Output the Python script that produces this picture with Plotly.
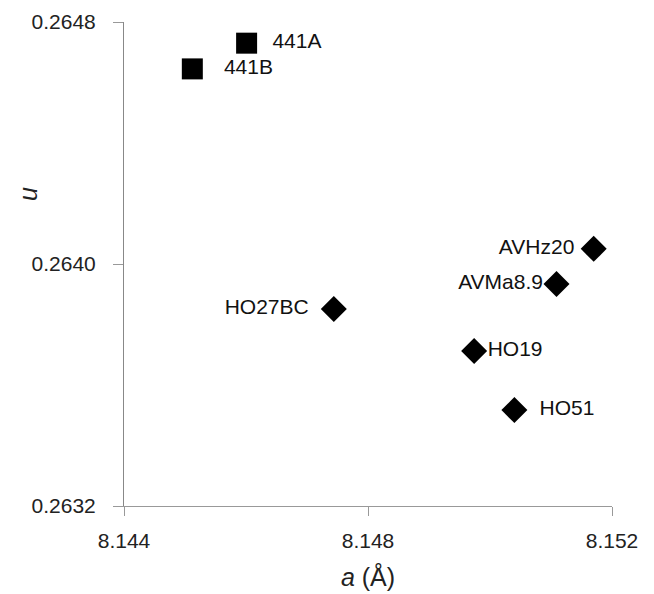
import plotly.graph_objects as go

labels = ["441A", "441B", "HO27BC", "HO19", "HO51", "AVMa8.9", "AVHz20"]
a_vals = [8.14601, 8.14512, 8.14744, 8.14974, 8.15040, 8.15109, 8.15170]
u_vals = [0.26473, 0.264645, 0.263851, 0.263712, 0.263517, 0.263934, 0.264050]
symbols = ["square", "square", "diamond", "diamond", "diamond", "diamond", "diamond"]
text_pos = ["middle right", "middle right", "middle left", "middle right",
            "middle right", "middle left", "middle left"]
pad = ["  ", "   ", "  ", "", "  ", "", " "]

texts = []
for t, p, s in zip(labels, text_pos, pad):
    texts.append(s + t if p.endswith("right") else t + s)

fig = go.Figure()
fig.add_trace(go.Scatter(
    x=a_vals, y=u_vals, mode="markers+text",
    text=texts,
    textposition=text_pos,
    textfont=dict(family="Liberation Sans, Arial", size=21, color="#111111"),
    marker=dict(symbol=symbols, size=[21, 21, 20, 20, 20, 20, 20], color="#000000",
                opacity=1, line=dict(width=0)),
    cliponaxis=False, showlegend=False,
))

fig.update_layout(
    width=654, height=594,
    margin=dict(l=124, r=42, t=22, b=88),
    paper_bgcolor="white", plot_bgcolor="white",
    font=dict(family="Liberation Sans, Arial", color="#222222"),
    xaxis=dict(range=[8.144, 8.152], dtick=0.004, tick0=8.144, tickformat=".3f",
               automargin=False,
               showgrid=False, zeroline=False, showline=True, linecolor="#999999", linewidth=1,
               ticks="outside", ticklen=9, tickcolor="#999999",
               ticklabelstandoff=7,
               tickfont=dict(size=21, color="#222222"),
               title=dict(text="<i>a</i> (Å)", font=dict(size=25, color="#222222"), standoff=17)),
    yaxis=dict(range=[0.2632, 0.2648], dtick=0.0008, tick0=0.2632, tickformat=".4f",
               automargin=False,
               showgrid=False, zeroline=False, showline=True, linecolor="#888888", linewidth=1,
               ticks="outside", ticklen=10, tickcolor="#999999",
               ticklabelstandoff=13,
               tickfont=dict(size=21, color="#222222")),
    annotations=[dict(text="<i>u</i>", xref="paper", yref="paper",
                      x=(28 - 124) / 488, y=(506 - 194) / 484,
                      xanchor="center", yanchor="middle", textangle=-90,
                      showarrow=False, font=dict(size=25, color="#222222"))],
)

fig.write_html("out.html")
